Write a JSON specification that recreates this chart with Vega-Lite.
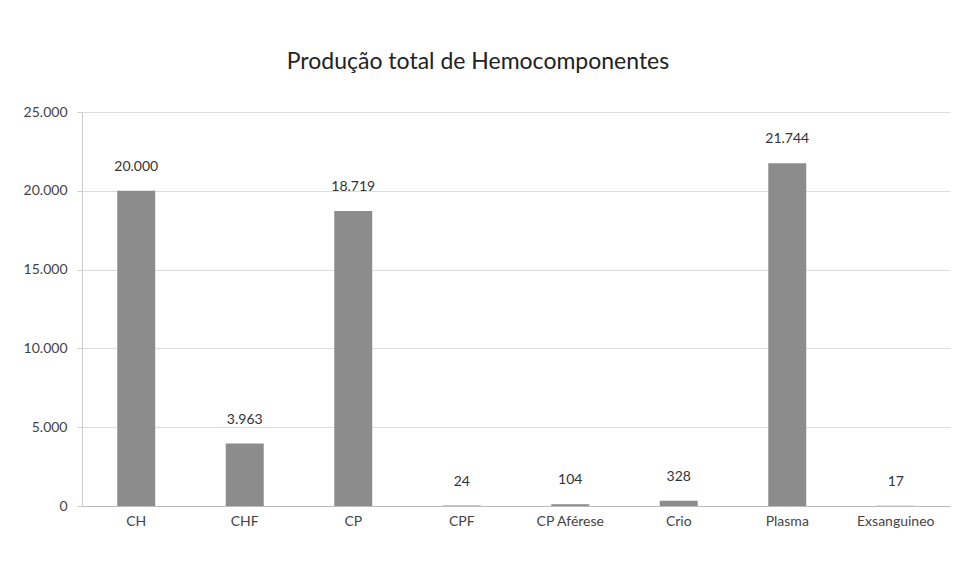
{
  "$schema": "https://vega.github.io/schema/vega-lite/v6.json",
  "width": 868,
  "height": 394,
  "autosize": {"type": "none"},
  "padding": {"left": 82, "top": 112, "right": 6, "bottom": 58},
  "background": "white",
  "title": {
    "text": "Produção total de Hemocomponentes",
    "anchor": "middle",
    "dx": -38,
    "offset": 31,
    "fontSize": 23,
    "font": "Lato",
    "fontWeight": "normal",
    "color": "#222"
  },
  "config": {
    "locale": {"number": {"decimal": ",", "thousands": ".", "grouping": [3], "currency": ["R$", ""]}},
    "view": {"stroke": null},
    "font": "Lato"
  },
  "data": {
    "values": [
      {"categoria": "CH", "valor": 20000},
      {"categoria": "CHF", "valor": 3963},
      {"categoria": "CP", "valor": 18719},
      {"categoria": "CPF", "valor": 24},
      {"categoria": "CP Aférese", "valor": 104},
      {"categoria": "Crio", "valor": 328},
      {"categoria": "Plasma", "valor": 21744},
      {"categoria": "Exsanguineo", "valor": 17}
    ]
  },
  "encoding": {
    "x": {
      "field": "categoria",
      "type": "nominal",
      "sort": null,
      "scale": {"paddingInner": 0.65, "paddingOuter": 0.325},
      "axis": {
        "title": null,
        "labelAngle": 0,
        "labelFontSize": 14,
        "labelColor": "#444",
        "labelPadding": 8,
        "ticks": false,
        "domainColor": "#bbb"
      }
    },
    "y": {
      "field": "valor",
      "type": "quantitative",
      "scale": {"domain": [0, 25000]},
      "axis": {
        "title": null,
        "values": [0, 5000, 10000, 15000, 20000, 25000],
        "format": ",d",
        "labelFontSize": 14,
        "labelColor": "#444",
        "labelPadding": 10,
        "gridColor": "#ddd",
        "domainColor": "#ccc",
        "tickColor": "#ccc",
        "tickSize": 5
      }
    }
  },
  "layer": [
    {"mark": {"type": "bar", "color": "#8c8c8c"}},
    {
      "mark": {"type": "text", "baseline": "bottom", "dy": -17, "fontSize": 14, "color": "#333"},
      "encoding": {"text": {"field": "valor", "type": "quantitative", "format": ",d"}}
    }
  ]
}
